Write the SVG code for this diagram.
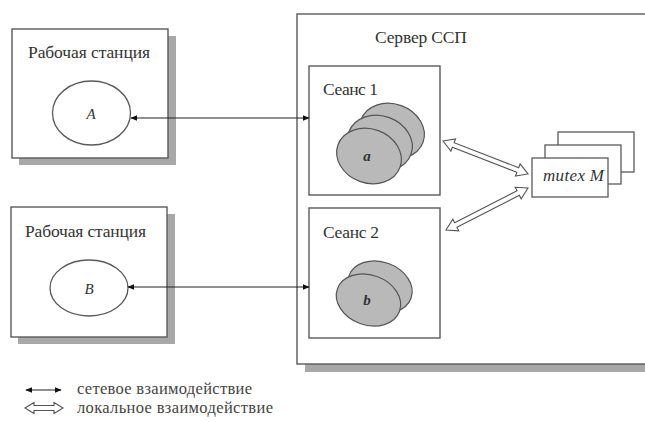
<svg xmlns="http://www.w3.org/2000/svg" width="645" height="422" viewBox="0 0 645 422">
  <style>
    .box { fill: #fff; stroke: #5a5a5a; stroke-width: 1.4; }
    .shadow { fill: #a8a8a8; }
    .proc { fill: #fff; stroke: #5a5a5a; stroke-width: 1.3; }
    .disk { fill: #b9b9b9; stroke: #555; stroke-width: 1.2; }
    text { font-family: 'Liberation Serif', 'Times New Roman', serif; fill: #333; }
    .lbl { font-size: 17.5px; }
    .ital { font-style: italic; }
    .legend { font-size: 16.5px; fill: #444; }
    .net { stroke: #222; stroke-width: 1.2; fill: none; marker-start: url(#head); marker-end: url(#head); }
    .local { fill: #fff; stroke: #555; stroke-width: 1.1; stroke-linejoin: miter; }
  </style>
  <defs>
    <marker id="head" viewBox="0 0 10 10" refX="9" refY="5" markerWidth="7" markerHeight="7" orient="auto-start-reverse" markerUnits="userSpaceOnUse">
      <path d="M0,1 L10,5 L0,9 Z" fill="#111"/>
    </marker>
  </defs>

  <rect width="645" height="422" fill="#fff"/>

  <!-- workstation A -->
  <g id="ws-a">
    <rect class="shadow" x="19" y="36" width="157" height="129"/>
    <rect class="box" x="12" y="29" width="156" height="129"/>
    <text class="lbl" x="28" y="58" textLength="122">Рабочая станция</text>
    <ellipse class="proc" cx="91.5" cy="113" rx="39" ry="32"/>
    <text class="ital" x="91" y="119" font-size="15" text-anchor="middle">A</text>
  </g>

  <!-- workstation B -->
  <g id="ws-b">
    <rect class="shadow" x="18" y="214" width="157" height="130"/>
    <rect class="box" x="11" y="207" width="156" height="130"/>
    <text class="lbl" x="25" y="237" textLength="121">Рабочая станция</text>
    <ellipse class="proc" cx="89" cy="288" rx="39" ry="28"/>
    <text class="ital" x="89" y="294" font-size="15" text-anchor="middle">B</text>
  </g>

  <!-- server -->
  <g id="server">
    <rect class="shadow" x="305" y="21" width="345" height="351"/>
    <rect class="box" x="297" y="14" width="352" height="350"/>
    <text class="lbl" x="375" y="43" textLength="92">Сервер ССП</text>
  </g>

  <!-- session 1 with three stacked contexts -->
  <g id="session-1">
    <rect class="box" x="309" y="66" width="131" height="129"/>
    <text class="lbl" x="323" y="95" textLength="55">Сеанс 1</text>
    <ellipse class="disk" cx="0" cy="0" rx="33" ry="27" transform="translate(392 131) rotate(20)"/>
    <ellipse class="disk" cx="0" cy="0" rx="33" ry="27" transform="translate(380 143) rotate(20)"/>
    <ellipse class="disk" cx="0" cy="0" rx="33" ry="27" transform="translate(369 156) rotate(20)"/>
    <text class="ital" x="367" y="161" font-size="15" font-weight="bold" text-anchor="middle">a</text>
  </g>

  <!-- session 2 with two stacked contexts -->
  <g id="session-2">
    <rect class="box" x="309" y="208" width="131" height="130"/>
    <text class="lbl" x="323" y="238" textLength="56">Сеанс 2</text>
    <ellipse class="disk" cx="0" cy="0" rx="33" ry="25" transform="translate(380 287) rotate(20)"/>
    <ellipse class="disk" cx="0" cy="0" rx="33" ry="25" transform="translate(368.5 300) rotate(20)"/>
    <text class="ital" x="367" y="305" font-size="15" font-weight="bold" text-anchor="middle">b</text>
  </g>

  <!-- mutex stack -->
  <g id="mutex">
    <rect class="proc" x="558" y="132" width="76" height="40"/>
    <rect class="proc" x="545" y="145" width="76" height="39"/>
    <rect class="proc" x="532" y="158" width="76" height="39"/>
    <text class="ital" x="543" y="181" font-size="17" textLength="61">mutex M</text>
  </g>

  <!-- connectors -->
  <g id="connectors">
    <line class="net" x1="131" y1="118" x2="309" y2="118"/>
    <line class="net" x1="128" y1="287" x2="309" y2="287"/>
    <!-- hollow double arrows: session <-> mutex -->
    <path class="local" transform="translate(443 141) rotate(21.2)" d="M0,0 L11,-6.5 L11,-2.5 L80.2,-2.5 L80.2,-6.5 L91.2,0 L80.2,6.5 L80.2,2.5 L11,2.5 L11,6.5 Z"/>
    <path class="local" transform="translate(446 230) rotate(-27.1)" d="M0,0 L11,-6.5 L11,-2.5 L81.1,-2.5 L81.1,-6.5 L92.1,0 L81.1,6.5 L81.1,2.5 L11,2.5 L11,6.5 Z"/>
  </g>

  <!-- legend -->
  <g id="legend">
    <line class="net" x1="26" y1="390" x2="61" y2="390"/>
    <text class="legend" x="77" y="394" textLength="175">сетевое взаимодействие</text>
    <path class="local" transform="translate(25 408)" d="M0,0 L9,-5.5 L9,-2.5 L29,-2.5 L29,-5.5 L38,0 L29,5.5 L29,2.5 L9,2.5 L9,5.5 Z"/>
    <text class="legend" x="77" y="413" textLength="196">локальное взаимодействие</text>
  </g>
</svg>
